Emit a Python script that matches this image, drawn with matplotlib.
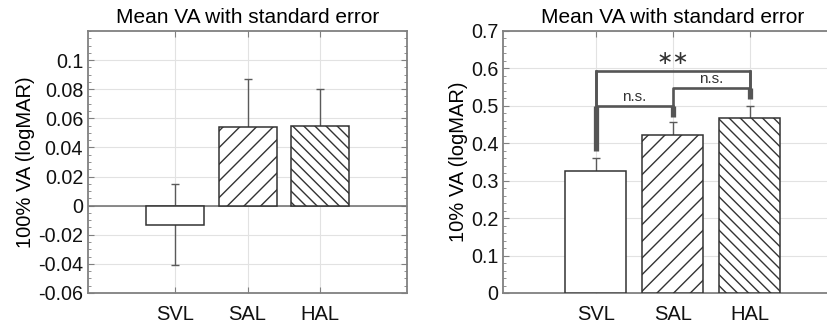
import matplotlib.pyplot as plt
from matplotlib.ticker import AutoMinorLocator, MultipleLocator

plt.rcParams['font.family'] = ['Liberation Sans', 'DejaVu Sans']
plt.rcParams['hatch.linewidth'] = 1.0
plt.rcParams['hatch.color'] = 'black'

groups = ['SVL', 'SAL', 'HAL']
hatches = ['', '//', '\\\\\\']

# 100% contrast VA
va100_mean = [-0.013, 0.054, 0.055]
va100_se = [0.028, 0.033, 0.025]

# 10% contrast VA
va10_mean = [0.326, 0.421, 0.467]
va10_se = [0.034, 0.035, 0.032]

title = 'Mean VA with standard error'
spine_col = '#808080'
grey = '#5a5a5a'


def style_axes(ax):
    ax.set_xlim(-0.2, 4.2)
    ax.set_xticks([1, 2, 3])
    ax.set_xticklabels(groups)
    ax.grid(True, color='#e2e2e2', lw=0.8)
    ax.set_axisbelow(True)
    for s in ax.spines.values():
        s.set_color(spine_col)
        s.set_linewidth(1.3)
    ax.tick_params(which='both', direction='in', colors=spine_col, labelcolor='#111111',
                   labelsize=14.2, right=True, top=True)
    ax.tick_params(axis='x', which='major', pad=9, labelsize=14.5)
    ax.tick_params(which='major', length=4)
    ax.tick_params(which='minor', length=2)
    ax.set_title(title, fontsize=15, pad=6)


def draw_bars(ax, means, ses):
    x = [1, 2, 3]
    ax.errorbar(x, means, yerr=ses, fmt='none', ecolor=grey, elinewidth=1.0,
                capsize=3, capthick=1.0, zorder=2)
    ax.bar(x, means, width=0.8, color='white', edgecolor='#333333', linewidth=1.1,
           hatch=hatches, zorder=3)


fig = plt.figure(figsize=(8.28, 3.25), dpi=100)

# left panel
ax1 = fig.add_axes([0.1063, 0.0985, 0.3853, 0.8062])
style_axes(ax1)
ax1.axhline(0, color='#777777', lw=1.2, zorder=2.5)
draw_bars(ax1, va100_mean, va100_se)
ax1.set_ylim(-0.06, 0.12)
ax1.yaxis.set_major_locator(MultipleLocator(0.02))
ax1.yaxis.set_minor_locator(AutoMinorLocator(4))
ax1.set_yticks([-0.06, -0.04, -0.02, 0, 0.02, 0.04, 0.06, 0.08, 0.1])
ax1.set_yticklabels(['-0.06', '-0.04', '-0.02', '0', '0.02', '0.04', '0.06', '0.08', '0.1'])
ax1.set_ylabel('100% VA (logMAR)', fontsize=14.5, labelpad=2)

# right panel (runs past the right edge of the image)
ax2 = fig.add_axes([0.6079, 0.0985, 0.409, 0.8062])
style_axes(ax2)
draw_bars(ax2, va10_mean, va10_se)
ax2.set_ylim(0, 0.7)
ax2.set_yticks([0, 0.1, 0.2, 0.3, 0.4, 0.5, 0.6, 0.7])
ax2.set_yticklabels(['0', '0.1', '0.2', '0.3', '0.4', '0.5', '0.6', '0.7'])
ax2.yaxis.set_minor_locator(AutoMinorLocator(5))
ax2.set_ylabel('10% VA (logMAR)', fontsize=14.5, labelpad=2)

# significance brackets
bc = '#555555'
h_svl_sal, h_sal_hal, h_all = 0.5, 0.547, 0.594
thin, thick = 1.9, 3.8
ax2.plot([1, 1, 2], [h_all, h_svl_sal, h_svl_sal], color=bc, lw=thin, zorder=4)
ax2.plot([1, 1], [0.378, h_svl_sal], color=bc, lw=thick, zorder=4, solid_capstyle='butt')
ax2.plot([2, 2], [0.47, h_svl_sal], color=bc, lw=thick, zorder=4, solid_capstyle='butt')
ax2.plot([2, 2, 3, 3], [h_svl_sal, h_sal_hal, h_sal_hal, h_all], color=bc, lw=thin, zorder=4)
ax2.plot([3, 3], [0.519, h_sal_hal], color=bc, lw=thick, zorder=4, solid_capstyle='butt')
ax2.plot([1, 1, 3, 3], [h_svl_sal, h_all, h_all, h_sal_hal], color=bc, lw=thin, zorder=4)
ax2.text(1.5, h_svl_sal + 0.006, 'n.s.', ha='center', va='bottom', fontsize=11, color='#333333')
ax2.text(2.5, h_sal_hal + 0.006, 'n.s.', ha='center', va='bottom', fontsize=11, color='#333333')
ax2.text(2, h_all + 0.008, '\u2217\u2217', ha='center', va='bottom', fontsize=14,
         color='#333333', family=['DejaVu Sans'])

fig.savefig('out.png', dpi=100)
